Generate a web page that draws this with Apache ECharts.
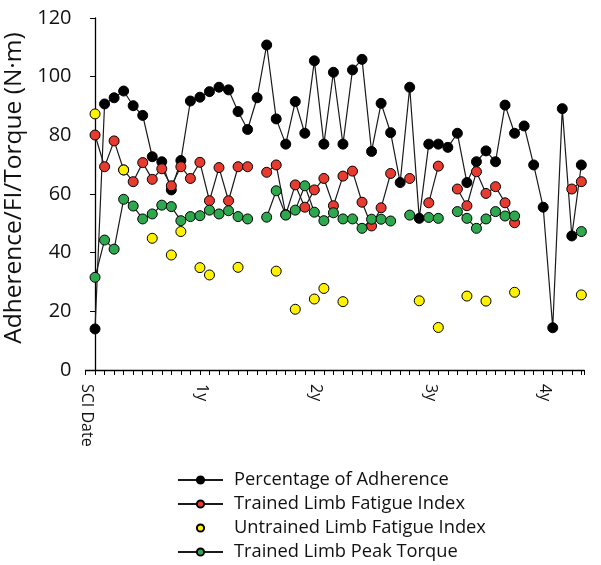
<!DOCTYPE html>
<html><head><meta charset="utf-8">
<script src="https://cdn.jsdelivr.net/npm/echarts@6/dist/echarts.min.js"></script>
<style>html,body{margin:0;padding:0;background:#fff}#c{width:601px;height:565px}</style>
</head><body><div id="c"></div>
<script>
// months since SCI date
const months = [0,1,2,3,4,5,6,7,8,9,10,11,12,13,14,15,16,17,18,19,20,21,22,23,24,25,26,27,28,29,30,31,32,33,34,35,36,37,38,39,40,41,42,43,44,45,46,47,48,49,50,51];
const adherence = [14.0,90.7,92.8,95.1,90.1,86.8,72.7,71.0,61.4,71.4,91.7,93.0,94.9,96.4,95.5,88.1,82.0,92.8,110.8,85.6,77.0,91.5,80.7,105.4,77.0,101.5,77.0,102.3,105.9,74.5,90.9,80.9,63.9,96.4,51.7,77.0,77.0,75.9,80.7,63.9,71.0,74.7,71.0,90.3,80.7,83.2,69.9,55.5,14.4,89.1,45.7,69.9];
const trainedFI = [80.1,69.3,78.1,68.2,64.2,70.7,65.0,68.6,62.8,69.3,65.3,70.8,57.7,69.0,57.7,69.3,69.3,null,67.4,69.9,53.0,63.1,55.5,61.4,65.3,56.0,66.1,67.8,57.2,49.1,55.3,67.0,null,65.3,null,57.0,69.5,null,61.7,56.0,67.6,60.2,62.5,57.0,50.2,null,null,null,null,null,61.7,64.2];
const peakTorque = [31.6,44.3,41.2,58.2,55.9,51.5,53.2,56.2,55.7,50.9,52.3,52.6,54.5,53.2,54.3,52.3,51.5,null,52.1,61.1,52.8,54.5,62.8,53.8,50.9,53.6,51.5,51.5,48.3,51.4,51.4,50.8,null,52.8,null,52.0,51.7,null,54.0,51.7,48.3,51.5,54.0,52.5,52.5,null,null,null,null,null,null,47.2];
const untrainedMonths = [0,3,6,8,9,11,12,15,19,21,23,24,26,34,36,39,41,44,51];
const untrainedFI = [87.3,68.2,44.9,39.2,47.2,34.9,32.4,35.0,33.7,20.7,24.2,27.8,23.3,23.6,14.5,25.2,23.5,26.5,25.6];
const yearLabels = {0:'SCI Date',12:'1y',24:'2y',36:'3y',48:'4y'};
const seriesNames = ['Percentage of Adherence','Trained Limb Fatigue Index','Untrained Limb Fatigue Index','Trained Limb Peak Torque'];

const pairs = (xs, ys) => xs.map((x, i) => [x, ys[i] == null ? '-' : ys[i]]);
const FONT = '"Open Sans"';
const TXT = '#111111';
function mk(name, data, fill, showLine, z) {
  return {
    name, type: 'line', data, z,
    symbol: 'circle', symbolSize: 10, showSymbol: true, connectNulls: false,
    itemStyle: { color: fill, borderColor: '#000', borderWidth: 1 },
    lineStyle: showLine ? { color: '#1a1a1a', width: 1.2 } : { width: 0, opacity: 0 },
    emphasis: { disabled: true }
  };
}
const chart = echarts.init(document.getElementById('c'), null, { renderer: 'canvas' });
chart.setOption({
  animation: false,
  textStyle: { fontFamily: FONT, color: TXT },
  grid: { left: 85.5, right: 16.8, top: 18, bottom: 195, containLabel: false, outerBoundsMode: 'none' },
  xAxis: {
    type: 'value', min: -1, max: 51.3, interval: 1,
    splitLine: { show: false },
    axisLine: { onZero: false, lineStyle: { color: '#000', width: 1.3 } },
    axisTick: { length: 5, lineStyle: { color: '#000', width: 1 } },
    axisLabel: {
      rotate: -90, margin: 14, fontSize: 16, color: TXT, fontFamily: FONT,
      verticalAlign: 'top', showMinLabel: true, showMaxLabel: true, hideOverlap: false,
      formatter: v => yearLabels[v] || ''
    }
  },
  yAxis: {
    type: 'value', min: 0, max: 120, interval: 20,
    splitLine: { show: false },
    axisLine: { show: true, lineStyle: { color: '#000', width: 1.3 } },
    axisTick: { show: true, length: 5, lineStyle: { color: '#000', width: 1 } },
    axisLabel: { fontSize: 20, color: TXT, fontFamily: FONT, margin: 14 },
    name: 'Adherence/FI/Torque (N·m)', nameLocation: 'middle', nameGap: 57,
    nameTextStyle: { fontSize: 24.5, color: TXT, fontFamily: FONT, padding: [0, 0, 0, 12] }
  },
  legend: {
    orient: 'vertical', left: 177, top: 471, padding: 0,
    itemWidth: 45, itemHeight: 9, itemGap: 6,
    textStyle: { fontSize: 18.3, color: TXT, fontFamily: FONT, lineHeight: 18, padding: [0, 0, 0, 6] },
    data: seriesNames
  },
  series: [
    mk(seriesNames[0], pairs(months, adherence), '#000000', true, 2),
    mk(seriesNames[1], pairs(months, trainedFI), '#e63b2e', true, 3),
    mk(seriesNames[3], pairs(months, peakTorque), '#2ea84e', true, 4),
    mk(seriesNames[2], pairs(untrainedMonths, untrainedFI), '#fff200', false, 5)
  ]
});
</script></body></html>
